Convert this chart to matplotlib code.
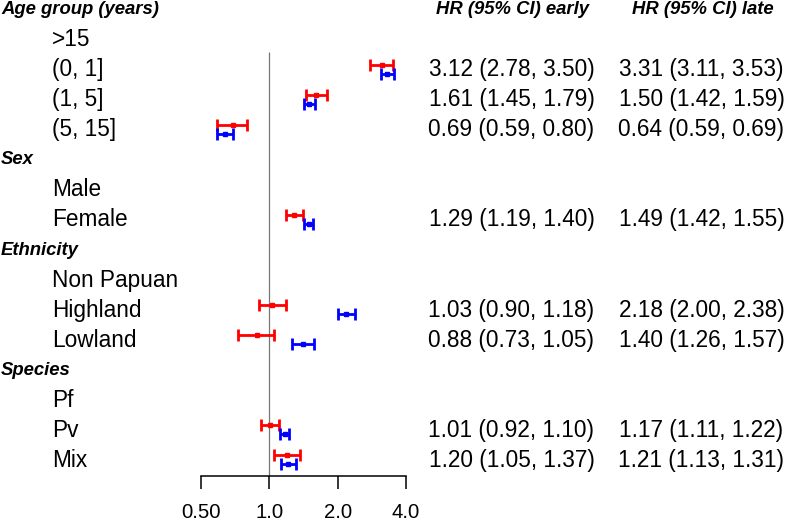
import matplotlib

matplotlib.use("Agg")
import matplotlib.pyplot as plt
from matplotlib.transforms import blended_transform_factory
from matplotlib.ticker import FixedLocator, NullLocator

plt.rcParams["font.family"] = ["Liberation Sans", "DejaVu Sans"]

# rows top to bottom; headers are the group titles
labels = ["Age group (years)", ">15", "(0, 1]", "(1, 5]", "(5, 15]",
          "Sex", "Male", "Female",
          "Ethnicity", "Non Papuan", "Highland", "Lowland",
          "Species", "Pf", "Pv", "Mix"]
headers = ["Age group (years)", "Sex", "Ethnicity", "Species"]

early_hr = [None, None, 3.12, 1.61, 0.69, None, None, 1.29, None, None, 1.03, 0.88, None, None, 1.01, 1.20]
early_lo = [None, None, 2.78, 1.45, 0.59, None, None, 1.19, None, None, 0.90, 0.73, None, None, 0.92, 1.05]
early_hi = [None, None, 3.50, 1.79, 0.80, None, None, 1.40, None, None, 1.18, 1.05, None, None, 1.10, 1.37]

late_hr = [None, None, 3.31, 1.50, 0.64, None, None, 1.49, None, None, 2.18, 1.40, None, None, 1.17, 1.21]
late_lo = [None, None, 3.11, 1.42, 0.59, None, None, 1.42, None, None, 2.00, 1.26, None, None, 1.11, 1.13]
late_hi = [None, None, 3.53, 1.59, 0.69, None, None, 1.55, None, None, 2.38, 1.57, None, None, 1.22, 1.31]

ticks = [0.5, 1.0, 2.0, 4.0]
tick_labels = ["0.50", "1.0", "2.0", "4.0"]

W, H = 787, 521
fig = plt.figure(figsize=(W / 100, H / 100), dpi=100)

# forest panel: x from 0.5 (px 201) to 4.0 (px 406), axis line at px 476
ax = fig.add_axes([201 / W, (H - 476) / H, (406 - 201) / W, 476 / H])
ax.set_xscale("log", base=2)
ax.set_xlim(0.5, 4.0)
ax.set_ylim(15.53, -0.33)
for side in ("top", "right", "left"):
    ax.spines[side].set_visible(False)
ax.spines["bottom"].set_linewidth(1.1)
ax.xaxis.set_major_locator(FixedLocator(ticks))
ax.xaxis.set_minor_locator(NullLocator())
ax.set_xticklabels(tick_labels, fontsize=14.6)
ax.tick_params(axis="x", direction="out", length=9.5, width=1.1, pad=10)
ax.set_yticks([])
ax.patch.set_visible(False)

ax.vlines(1.0, 1.4, 15.53, color="#777777", lw=0.9, zorder=1)

for i in range(len(labels)):
    if early_hr[i] is not None:
        ax.errorbar(early_hr[i], i - 0.17,
                    xerr=[[early_hr[i] - early_lo[i]], [early_hi[i] - early_hr[i]]],
                    fmt="s", ms=2.5, color="#ff0000", elinewidth=2, capsize=4.3,
                    capthick=2, clip_on=False, zorder=3)
    if late_hr[i] is not None:
        ax.errorbar(late_hr[i], i + 0.14,
                    xerr=[[late_hr[i] - late_lo[i]], [late_hi[i] - late_hr[i]]],
                    fmt="s", ms=2.5, color="#0000ff", elinewidth=2, capsize=4.3,
                    capthick=2, clip_on=False, zorder=3)

tr = blended_transform_factory(fig.transFigure, ax.transData)
for i, lab in enumerate(labels):
    if lab in headers:
        ax.text(1 / W, i, lab, transform=tr, ha="left", va="center",
                fontsize=13.3, fontweight="bold", fontstyle="italic")
    else:
        ax.text(52 / W, i, lab, transform=tr, ha="left", va="center", fontsize=16.3)
    if early_hr[i] is not None:
        ax.text(511.5 / W, i, f"{early_hr[i]:.2f} ({early_lo[i]:.2f}, {early_hi[i]:.2f})",
                transform=tr, ha="center", va="center", fontsize=16.3)
        ax.text(701.5 / W, i, f"{late_hr[i]:.2f} ({late_lo[i]:.2f}, {late_hi[i]:.2f})",
                transform=tr, ha="center", va="center", fontsize=16.3)

ax.text(512 / W, 0, "HR (95% CI) early", transform=tr, ha="center", va="center",
        fontsize=13.3, fontweight="bold", fontstyle="italic")
ax.text(703 / W, 0, "HR (95% CI) late", transform=tr, ha="center", va="center",
        fontsize=13.3, fontweight="bold", fontstyle="italic")

fig.savefig("out.png", dpi=100)
